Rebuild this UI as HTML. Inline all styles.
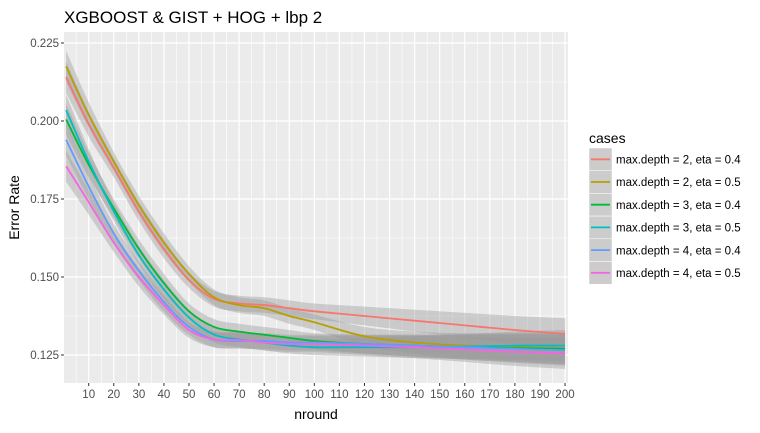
<!DOCTYPE html>
<html><head><meta charset="utf-8"><style>
body{margin:0;background:#fff;}
svg text{font-family:"Liberation Sans",Arial,sans-serif;}
</style></head><body>
<svg id="chart" width="760" height="428" xmlns="http://www.w3.org/2000/svg"></svg>
<script>
const xs = [1,10,20,30,40,50,60,70,80,90,100,120,140,160,180,200];
const seriesNames = ["max.depth = 2, eta = 0.4","max.depth = 2, eta = 0.5","max.depth = 3, eta = 0.4","max.depth = 3, eta = 0.5","max.depth = 4, eta = 0.4","max.depth = 4, eta = 0.5"];
const s1 = [0.214,0.199,0.185,0.171,0.159,0.149,0.143,0.1415,0.141,0.140,0.139,0.1375,0.136,0.1345,0.133,0.1318];
const s2 = [0.2175,0.202,0.187,0.173,0.161,0.151,0.1435,0.141,0.140,0.1375,0.1355,0.131,0.129,0.128,0.1275,0.127];
const s3 = [0.2005,0.186,0.172,0.159,0.148,0.139,0.134,0.1325,0.1315,0.1305,0.1295,0.1285,0.128,0.1275,0.1272,0.127];
const s4 = [0.2035,0.187,0.171,0.157,0.146,0.137,0.1315,0.130,0.129,0.128,0.1275,0.1275,0.1275,0.1277,0.128,0.128];
const s5 = [0.194,0.179,0.164,0.152,0.142,0.134,0.130,0.1295,0.1295,0.129,0.129,0.1285,0.128,0.1275,0.127,0.1265];
const s6 = [0.1855,0.174,0.161,0.150,0.141,0.133,0.130,0.1298,0.129,0.1285,0.1285,0.128,0.1275,0.1268,0.126,0.1255];
const bandHalf = [0.005,0.004,0.003,0.003,0.003,0.0025,0.0025,0.0025,0.0025,0.0025,0.0025,0.003,0.0035,0.004,0.0045,0.005];
const xTicks = [10,20,30,40,50,60,70,80,90,100,110,120,130,140,150,160,170,180,190,200];
const yTicks = [0.125,0.150,0.175,0.200,0.225];
const colors = ["#F8766D","#B79F00","#00BA38","#00BFC4","#619CFF","#F564E3"];
const allSeries = [s1,s2,s3,s4,s5,s6];

const NS="http://www.w3.org/2000/svg";
const svg=document.getElementById('chart');
const L=64,R=568,T=32,B=383;
const X=v=>88.7+(v-10)*2.507;
const Y=v=>355-(v-0.125)*3120;
function mk(tag,attrs,parent){const e=document.createElementNS(NS,tag);for(const k in attrs)e.setAttribute(k,attrs[k]);(parent||svg).appendChild(e);return e;}
function smooth(pts,move){
 let d=(move?'M':'L')+pts[0][0]+','+pts[0][1];
 for(let i=0;i<pts.length-1;i++){
  const p0=pts[Math.max(0,i-1)],p1=pts[i],p2=pts[i+1],p3=pts[Math.min(pts.length-1,i+2)];
  const c1x=p1[0]+(p2[0]-p0[0])/6,c1y=p1[1]+(p2[1]-p0[1])/6;
  const c2x=p2[0]-(p3[0]-p1[0])/6,c2y=p2[1]-(p3[1]-p1[1])/6;
  d+=`C${c1x},${c1y} ${c2x},${c2y} ${p2[0]},${p2[1]}`;
 }
 return d;
}

const title=mk('text',{x:64,y:23,'font-size':17,fill:'#000'});title.textContent="XGBOOST & GIST + HOG + lbp 2";



const panel=mk('rect',{x:L,y:T,width:R-L,height:B-T,fill:'#EBEBEB'});


for(let i=0;i<yTicks.length;i++){const v=yTicks[i]-0.0125;const y=Y(v);if(y>T&&y<B)mk('line',{x1:L,x2:R,y1:y,y2:y,stroke:'#fff','stroke-width':0.6});}
{const y=Y(0.2375);if(y>T)mk('line',{x1:L,x2:R,y1:y,y2:y,stroke:'#fff','stroke-width':0.6});}
for(const t of xTicks){const x=X(t-5);if(x>L)mk('line',{x1:x,x2:x,y1:T,y2:B,stroke:'#fff','stroke-width':0.6});}
for(const t of yTicks){const y=Y(t);mk('line',{x1:L,x2:R,y1:y,y2:y,stroke:'#fff','stroke-width':1.2});
 mk('line',{x1:L-3,x2:L,y1:y,y2:y,stroke:'#333'});
 const tx=mk('text',{x:L-5,y:y+4,'font-size':11.5,fill:'#4D4D4D','text-anchor':'end'});tx.textContent=t.toFixed(3);
 
 }
for(const t of xTicks){const x=X(t);mk('line',{x1:x,x2:x,y1:T,y2:B,stroke:'#fff','stroke-width':1.2});
 mk('line',{x1:x,x2:x,y1:B,y2:B+3,stroke:'#333'});
 const tx=mk('text',{x:x,y:B+15,'font-size':11.5,fill:'#4D4D4D','text-anchor':'middle'});tx.textContent=t;
 
 }
allSeries.forEach((s,i)=>{
 const up=xs.map((x,j)=>[X(x),Y(s[j]+bandHalf[j])]);
 const dn=xs.map((x,j)=>[X(x),Y(s[j]-bandHalf[j])]).reverse();
 const p=mk('path',{d:smooth(up,true)+smooth(dn,false)+'Z',fill:'#999','fill-opacity':0.4});
 
 
});
allSeries.forEach((s,i)=>{
 const p=mk('path',{d:smooth(xs.map((x,j)=>[X(x),Y(s[j])]),true),fill:'none',stroke:colors[i],'stroke-width':1.8});
 
 
});
const xt=mk('text',{x:(L+R)/2,y:419,'font-size':14,fill:'#000','text-anchor':'middle'});xt.textContent='nround';


const yt=mk('text',{x:0,y:0,'font-size':14,fill:'#000','text-anchor':'middle',transform:`translate(19,${(T+B)/2}) rotate(-90)`});yt.textContent='Error Rate';


const lt=mk('text',{x:589,y:143,'font-size':14,fill:'#000'});lt.textContent='cases';


seriesNames.forEach((n,i)=>{
 const y=148+i*22.7;
 const g=mk('g',{});
 
 
 mk('rect',{x:589,y:y,width:23,height:22.7,fill:'#CCCCCC',stroke:'#fff','stroke-width':0.5},g);
 mk('line',{x1:591,x2:610,y1:y+11.3,y2:y+11.3,stroke:colors[i],'stroke-width':1.8},g);
 const t=mk('text',{x:616,y:y+15.5,'font-size':11.5,fill:'#000'},g);t.textContent=n;
});
</script>
</body></html>
